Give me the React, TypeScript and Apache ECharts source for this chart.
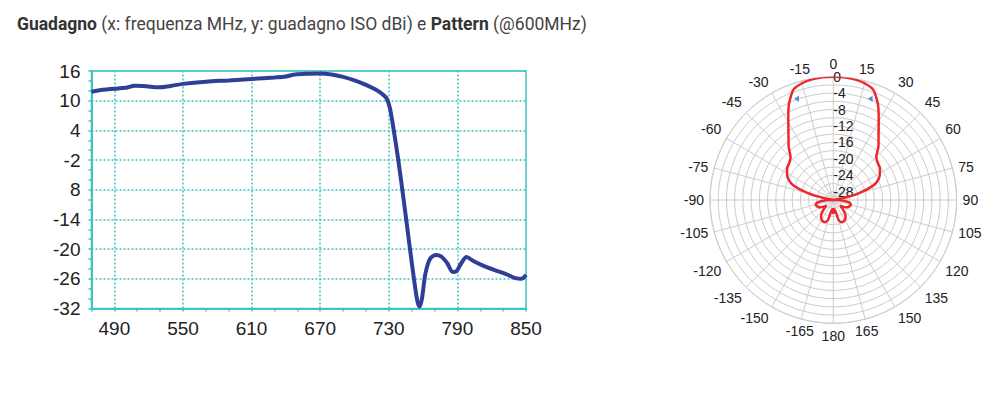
import React, { useEffect, useRef } from "react";
import * as echarts from "echarts";

// ---- Gain vs frequency (MHz, dBi) ----
const freq = [470, 480, 490, 500, 508, 518, 528, 540, 550, 570, 590, 610, 630, 640, 648, 660, 670, 680, 690, 700, 710, 718, 724, 728, 731, 734, 738, 743, 748, 752, 755, 757, 759, 762, 766, 771, 776, 781, 786, 789, 793, 798, 804, 812, 822, 832, 840, 846, 850];
const gain = [11.8, 12.2, 12.4, 12.6, 13.0, 12.9, 12.7, 13.0, 13.4, 13.85, 14.1, 14.4, 14.7, 14.9, 15.3, 15.45, 15.5, 15.3, 14.8, 14.1, 13.2, 12.3, 11.4, 10.5, 8.5, 4.5, -1.5, -10, -19, -26, -30.5, -31.6, -30, -25, -22, -21.2, -21.5, -22.8, -24.6, -24.5, -23, -21.6, -22.4, -23.3, -24.2, -25.0, -25.8, -26.0, -25.2];

const xLabelValues = [490, 550, 610, 670, 730, 790, 850];
const xGridValues = [490, 550, 610, 670, 730, 790];
const yTickValues = [-32, -26, -20, -14, -8, -2, 4, 10, 16];
const yTickTexts = ["-32", "-26", "-20", "-14", "8", "-2", "4", "10", "16"];

// ---- Radiation pattern @600MHz (deg, dB) ----
const patternAngles = [-180, -175, -170, -165, -160, -155, -150, -145, -140, -135, -130, -125, -120, -115, -110, -105, -100, -95, -90, -85, -80, -75, -70, -65, -60, -55, -50, -45, -40, -35, -30, -25, -20, -15, -10, -5, 0, 5, 10, 15, 20, 25, 30, 35, 40, 45, 50, 55, 60, 65, 70, 75, 80, 85, 90, 95, 100, 105, 110, 115, 120, 125, 130, 135, 140, 145, 150, 155, 160, 165, 170, 175, 180];
const patternGain = [-26.6, -27.8, -27.3, -24.9, -24.3, -24.2, -24.4, -24.8, -25.5, -26.6, -27.8, -27.2, -26.5, -26.0, -25.7, -25.6, -25.9, -27.2, -29.0, -30, -28.0, -23.6, -19.7, -17.9, -17.0, -16.3, -16.0, -15.3, -13.1, -11.0, -8.1, -4.4, -1.5, -0.6, -0.2, -0.05, 0, -0.05, -0.2, -0.6, -1.5, -4.3, -7.9, -10.8, -12.9, -15.2, -15.9, -16.2, -16.9, -17.8, -19.6, -23.5, -28.0, -30, -29.0, -27.2, -25.9, -25.6, -25.7, -26.0, -26.5, -27.2, -27.8, -26.6, -25.5, -24.8, -24.4, -24.2, -24.3, -24.9, -27.3, -27.8, -26.6];
const markerAngles = [-20, 20];
const markerGain = [-3.8, -3.8];

const TEAL = "#40c2c0";
const BLUE = "#2f3f98";
const RED = "#f0262e";
const GRID_GRAY = "#cccccc";
const LABEL = "#222222";
const SANS = "Liberation Sans";

function toPolarAngle(a: number) {
  return a < 0 ? a + 360 : a;
}

export default function App() {
  const ref = useRef<HTMLDivElement>(null);

  useEffect(() => {
    document.body.style.margin = "0";
    if (!ref.current) return;
    const chart = echarts.init(ref.current, undefined, { renderer: "svg" });

    const option: any = {
      animation: false,
      backgroundColor: "#ffffff",
      title: {
        text: "{b|Guadagno} (x: frequenza MHz, y: guadagno ISO dBi) e {b|Pattern} (@600MHz)",
        left: 12,
        top: 8,
        textStyle: {
          fontFamily: "Roboto",
          fontSize: 17.5,
          fontWeight: "normal",
          color: "#444444",
          lineHeight: 22,
          rich: {
            b: { fontFamily: "Roboto", fontSize: 17.5, fontWeight: "bold", color: "#333333", lineHeight: 22 },
          },
        },
      },
      grid: {
        left: 91.5,
        top: 71,
        width: 434.5,
        height: 237.5,
        show: true,
        borderColor: TEAL,
        borderWidth: 1.5,
        containLabel: false,
        outerBoundsMode: "none",
      },
      xAxis: {
        type: "value",
        min: 470,
        max: 850,
        interval: 20,
        axisLine: { show: true, onZero: false, lineStyle: { color: TEAL, width: 2 } },
        axisTick: { show: true, length: 3, lineStyle: { color: TEAL, width: 1.5 } },
        splitLine: { show: false },
        axisLabel: {
          fontFamily: SANS,
          fontSize: 19,
          color: LABEL,
          margin: 10,
          formatter: (v: number) => (xLabelValues.indexOf(v) >= 0 ? String(v) : ""),
        },
      },
      yAxis: {
        type: "value",
        min: -32,
        max: 16,
        interval: 6,
        axisLine: { show: true, onZero: false, lineStyle: { color: TEAL, width: 2 } },
        axisTick: { show: true, length: 3, lineStyle: { color: TEAL, width: 1.5 } },
        minorTick: { show: true, splitNumber: 3, length: 3, lineStyle: { color: TEAL, width: 1.5 } },
        splitLine: { show: true, lineStyle: { color: TEAL, type: [2, 2], width: 1.5 } },
        axisLabel: {
          fontFamily: SANS,
          fontSize: 19,
          color: LABEL,
          margin: 11,
          formatter: (v: number) => {
            const i = yTickValues.indexOf(v);
            return i >= 0 ? yTickTexts[i] : "";
          },
        },
      },
      polar: { center: [833.3, 200], radius: 123.3 },
      angleAxis: {
        type: "value",
        min: 0,
        max: 360,
        interval: 15,
        startAngle: 90,
        clockwise: true,
        axisLine: { show: true, lineStyle: { color: GRID_GRAY, width: 1 } },
        axisTick: { show: false },
        splitLine: { show: true, lineStyle: { color: GRID_GRAY, width: 1 } },
        axisLabel: {
          margin: 6,
          fontFamily: SANS,
          fontSize: 14,
          lineHeight: 13,
          color: LABEL,
          formatter: (v: number) => (v === 360 ? "" : v > 180 ? String(v - 360) : String(v)),
        },
      },
      radiusAxis: {
        type: "value",
        min: -30,
        max: 0,
        interval: 2,
        axisLine: { show: false },
        axisTick: { show: false },
        splitLine: { show: true, lineStyle: { color: GRID_GRAY, width: 1 } },
        axisLabel: {
          margin: 0,
          align: "left",
          verticalAlign: "middle",
          padding: [5, 0, 0, 0],
          fontFamily: SANS,
          fontSize: 14,
          lineHeight: 12,
          color: LABEL,
          formatter: (v: number) => (v % 4 === 0 ? String(v) : ""),
        },
      },
      series: [
        {
          type: "line",
          xAxisIndex: 0,
          yAxisIndex: 0,
          data: freq.map((f, i) => [f, gain[i]]),
          smooth: 0.3,
          showSymbol: false,
          z: 3,
          lineStyle: { color: BLUE, width: 4 },
          markLine: {
            silent: true,
            z: 1,
            symbol: ["none", "none"],
            label: { show: false },
            lineStyle: { color: TEAL, type: [2, 2], width: 1.5 },
            emphasis: { disabled: true },
            data: xGridValues.map((v) => ({ xAxis: v })),
          },
        },
        {
          type: "line",
          coordinateSystem: "polar",
          data: patternAngles.map((a, i) => [patternGain[i], toPolarAngle(a)]),
          smooth: 0.2,
          showSymbol: false,
          clip: false,
          z: 3,
          lineStyle: { color: RED, width: 2.5 },
        },
        {
          type: "scatter",
          coordinateSystem: "polar",
          data: markerAngles.map((a, i) => [markerGain[i], toPolarAngle(a)]),
          symbol: "triangle",
          symbolSize: [6, 5],
          symbolRotate: 90,
          z: 4,
          itemStyle: { color: "#1f78d1" },
        },
      ],
    };

    chart.setOption(option);
    return () => chart.dispose();
  }, []);

  return <div ref={ref} style={{ width: 997, height: 399 }} />;
}
